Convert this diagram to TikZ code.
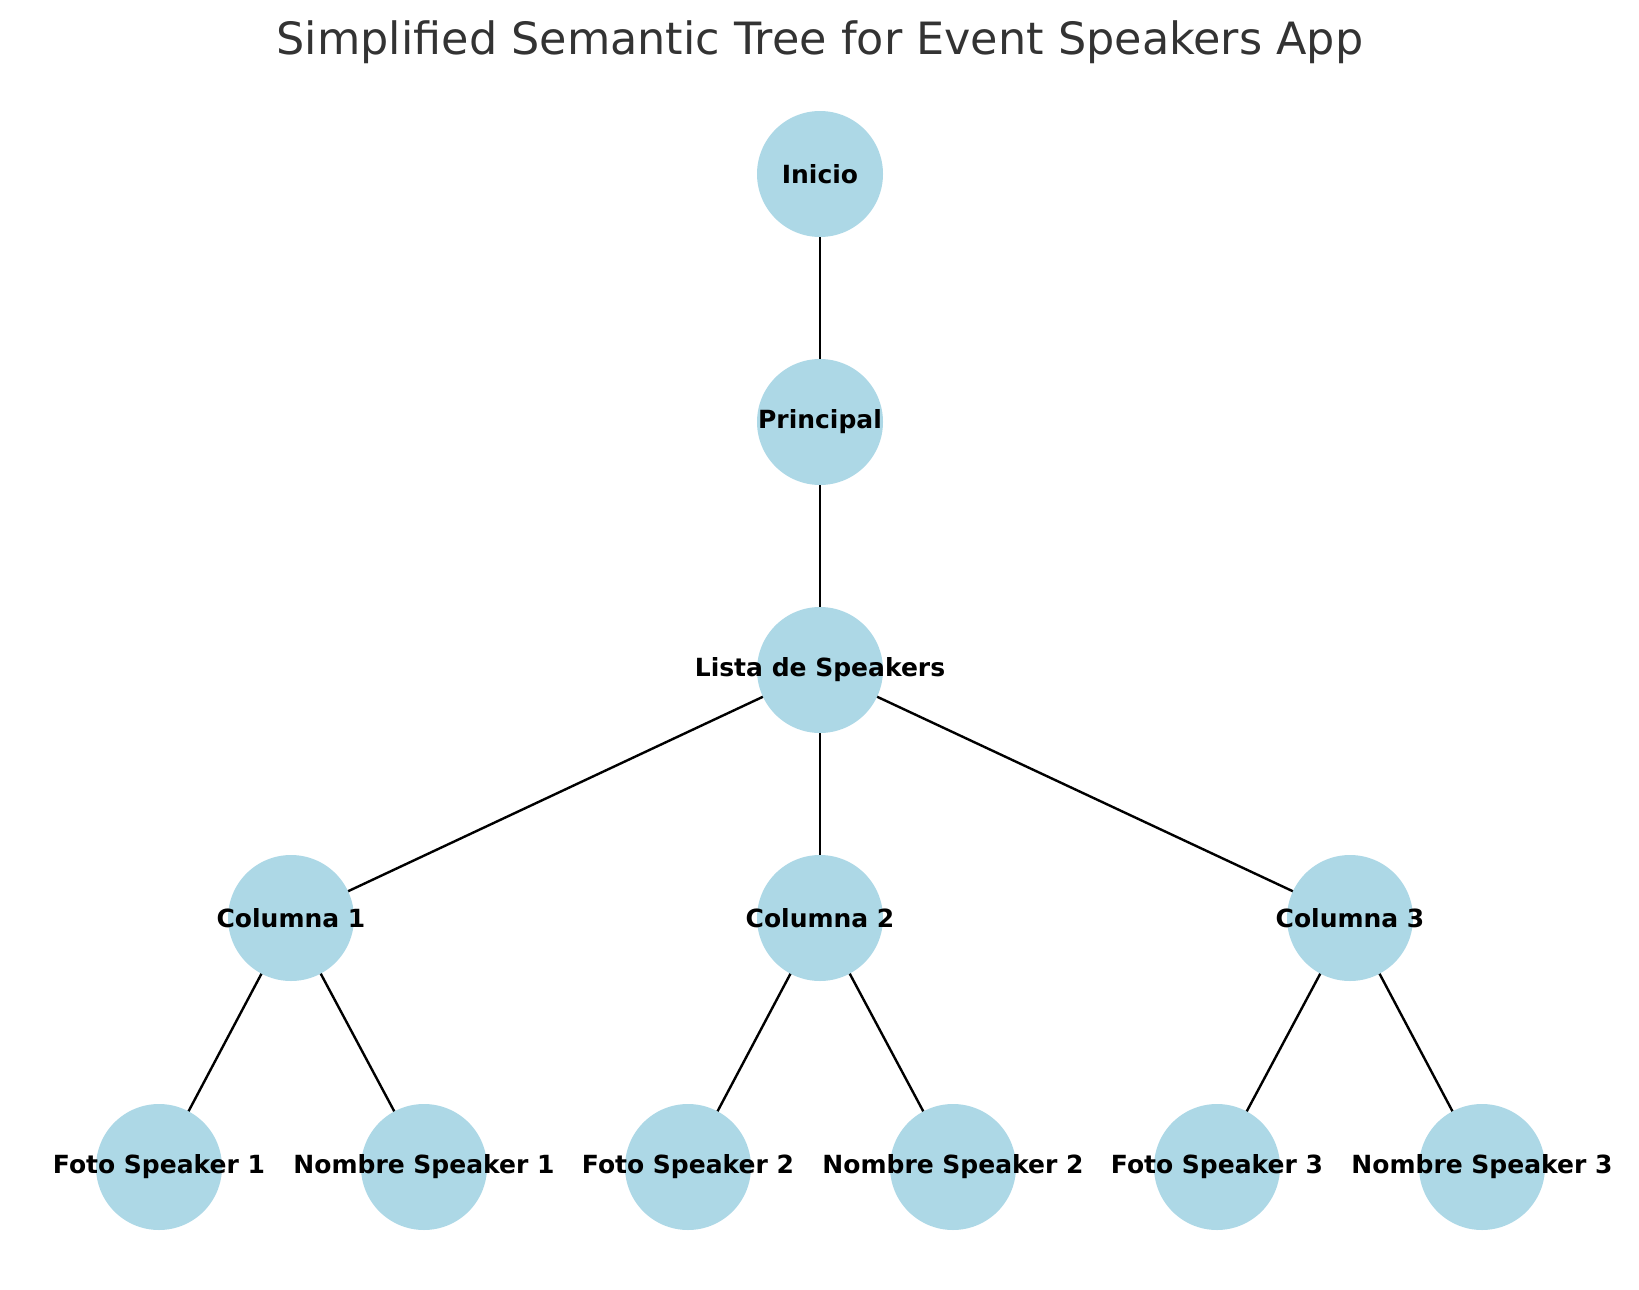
\documentclass[tikz,border=0pt]{standalone}
\usepackage{fontspec}
\setmainfont{DejaVu Sans}
\definecolor{nodeblue}{HTML}{ADD8E6}
\definecolor{titlegray}{HTML}{333333}
\begin{document}
\begin{tikzpicture}[x=1pt,y=-1pt,
  treenode/.style={circle,minimum size=126pt,inner sep=0pt,font=\fontsize{25}{25}\selectfont\bfseries,text=black},
  edge/.style={draw=black,line width=2.4pt}]
\useasboundingbox (0,0) rectangle (1639,1290);
\node[font=\fontsize{44.5}{44.5}\selectfont,text=titlegray] (title) at (820,42) {Simplified Semantic Tree for Event Speakers App};
\coordinate (inicio) at (820,174);
\coordinate (principal) at (820,422);
\coordinate (lista) at (820,670);
\coordinate (c1) at (291,918);
\coordinate (c2) at (820,918);
\coordinate (c3) at (1350,918);
\coordinate (f1) at (159,1167);
\coordinate (n1) at (424,1167);
\coordinate (f2) at (688,1167);
\coordinate (n2) at (953,1167);
\coordinate (f3) at (1217,1167);
\coordinate (n3) at (1482,1167);
\draw[edge] (inicio) -- (principal);
\draw[edge] (principal) -- (lista);
\draw[edge] (lista) -- (c1);
\draw[edge] (lista) -- (c2);
\draw[edge] (lista) -- (c3);
\draw[edge] (c1) -- (f1);
\draw[edge] (c1) -- (n1);
\draw[edge] (c2) -- (f2);
\draw[edge] (c2) -- (n2);
\draw[edge] (c3) -- (f3);
\draw[edge] (c3) -- (n3);
\foreach \p in {inicio,principal,lista,c1,c2,c3,f1,n1,f2,n2,f3,n3}
  \fill[nodeblue] (\p) circle (63pt);
\node[treenode] (Linicio) at (inicio) {Inicio};
\node[treenode] (Lprincipal) at (principal) {Principal};
\node[treenode] (Llista) at (lista) {Lista de Speakers};
\node[treenode] (Lc1) at (c1) {Columna 1};
\node[treenode] (Lc2) at (c2) {Columna 2};
\node[treenode] (Lc3) at (c3) {Columna 3};
\node[treenode] (Lf1) at (f1) {Foto Speaker 1};
\node[treenode] (Ln1) at (n1) {Nombre Speaker 1};
\node[treenode] (Lf2) at (f2) {Foto Speaker 2};
\node[treenode] (Ln2) at (n2) {Nombre Speaker 2};
\node[treenode] (Lf3) at (f3) {Foto Speaker 3};
\node[treenode] (Ln3) at (n3) {Nombre Speaker 3};
\end{tikzpicture}
\end{document}
